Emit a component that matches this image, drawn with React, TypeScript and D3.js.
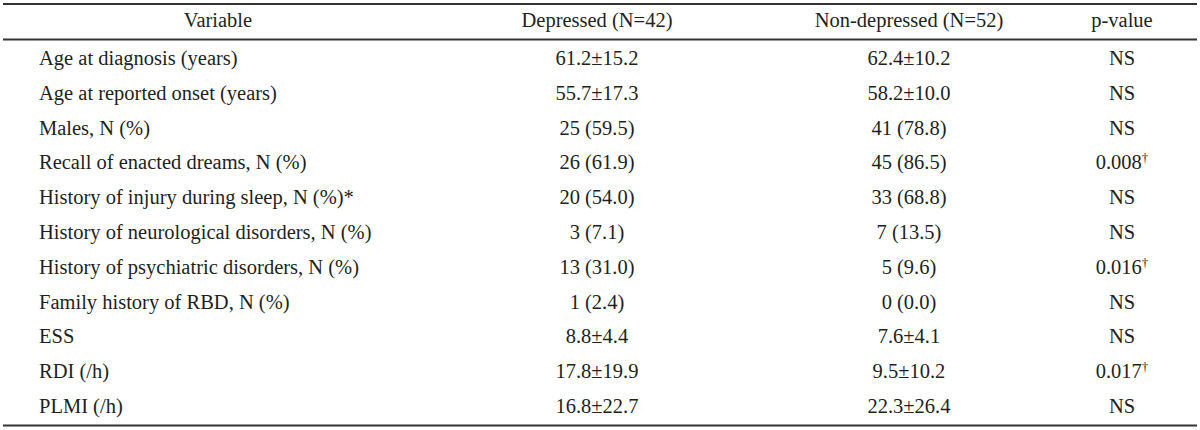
import * as d3 from "d3";
import { useEffect, useRef } from "react";

const headers = ["Variable", "Depressed (N=42)", "Non-depressed (N=52)", "p-value"];

const variables = [
  "Age at diagnosis (years)",
  "Age at reported onset (years)",
  "Males, N (%)",
  "Recall of enacted dreams, N (%)",
  "History of injury during sleep, N (%)*",
  "History of neurological disorders, N (%)",
  "History of psychiatric disorders, N (%)",
  "Family history of RBD, N (%)",
  "ESS",
  "RDI (/h)",
  "PLMI (/h)",
];

const depressed = [
  "61.2±15.2",
  "55.7±17.3",
  "25 (59.5)",
  "26 (61.9)",
  "20 (54.0)",
  "3 (7.1)",
  "13 (31.0)",
  "1 (2.4)",
  "8.8±4.4",
  "17.8±19.9",
  "16.8±22.7",
];

const nonDepressed = [
  "62.4±10.2",
  "58.2±10.0",
  "41 (78.8)",
  "45 (86.5)",
  "33 (68.8)",
  "7 (13.5)",
  "5 (9.6)",
  "0 (0.0)",
  "7.6±4.1",
  "9.5±10.2",
  "22.3±26.4",
];

// † marks significant values
const pValues = ["NS", "NS", "NS", "0.008†", "NS", "NS", "0.016†", "NS", "NS", "0.017†", "NS"];

export default function App() {
  const ref = useRef<SVGSVGElement>(null);

  useEffect(() => {
    const width = 1200;
    const height = 430;
    const ink = "#231f20";
    const font = "'Liberation Serif', 'Times New Roman', serif";
    const fontSize = 20.5;

    const svg = d3.select(ref.current);
    svg.selectAll("*").remove();
    svg.attr("width", width).attr("height", height);

    // column centres (first column is left aligned at its own x)
    const colX = d3.scaleOrdinal<string, number>()
      .domain(["var", "dep", "non", "p"])
      .range([218, 597, 909, 1122]);
    const varLeft = 39;

    // row baselines
    const y = d3.scalePoint<string>()
      .domain(variables)
      .range([65, 413]);

    // rules
    const rules = [4, 39.5, 425.5];
    svg.selectAll("line.rule")
      .data(rules)
      .join("line")
      .attr("class", "rule")
      .attr("x1", 3)
      .attr("x2", 1197)
      .attr("y1", d => d)
      .attr("y2", d => d)
      .attr("stroke", "#333")
      .attr("stroke-width", 2);

    const g = svg.append("g")
      .attr("font-family", font)
      .attr("font-size", fontSize)
      .attr("fill", ink);

    // header
    const keys = ["var", "dep", "non", "p"];
    g.selectAll("text.head")
      .data(headers)
      .join("text")
      .attr("class", "head")
      .attr("x", (_, i) => colX(keys[i]))
      .attr("y", 27)
      .attr("text-anchor", "middle")
      .text(d => d);

    // variable names
    g.selectAll("text.var")
      .data(variables)
      .join("text")
      .attr("class", "var")
      .attr("x", varLeft)
      .attr("y", d => y(d)!)
      .text(d => d);

    const valueCol = (cls: string, key: string, vals: string[]) => {
      g.selectAll(`text.${cls}`)
        .data(vals)
        .join("text")
        .attr("class", cls)
        .attr("x", colX(key))
        .attr("y", (_, i) => y(variables[i])!)
        .attr("text-anchor", "middle")
        .each(function (d) {
          const t = d3.select(this);
          const parts = d.split("†");
          t.append("tspan").text(parts[0]);
          if (parts.length > 1) {
            t.append("tspan")
              .attr("font-size", 13)
              .attr("dy", -7)
              .text("†");
          }
        });
    };

    valueCol("dep", "dep", depressed);
    valueCol("non", "non", nonDepressed);
    valueCol("pv", "p", pValues);
  }, []);

  return (
    <svg
      ref={ref}
      style={{ position: "absolute", left: 0, top: 0, background: "#fff", display: "block" }}
    />
  );
}
